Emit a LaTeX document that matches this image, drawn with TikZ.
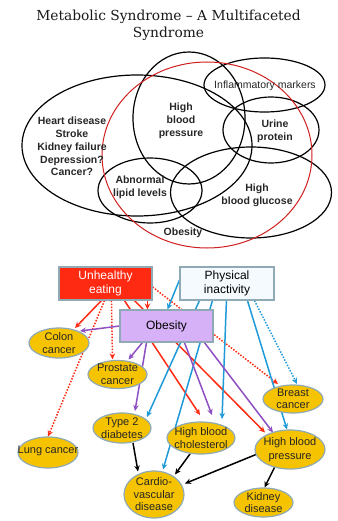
\documentclass[tikz,border=0pt]{standalone}
\usepackage{fontspec}
\setmainfont{Liberation Sans}
\newfontfamily\titlefont{DejaVu Serif}
\usetikzlibrary{shapes.geometric,arrows.meta,calc}
\pgfdeclarelayer{bg}
\pgfsetlayers{bg,main}
\definecolor{cred}{HTML}{FF2A12}
\definecolor{cblue}{HTML}{1E9AD8}
\definecolor{cpurple}{HTML}{8E4FC2}
\definecolor{cgold}{HTML}{F6C300}
\definecolor{cedge}{HTML}{8FAAB4}
\definecolor{cobes}{HTML}{D7B1F7}
\definecolor{cpi}{HTML}{F4FAFD}
\definecolor{cvenred}{HTML}{D01F1F}
\begin{document}
\begin{tikzpicture}[x=1pt,y=-1pt,
  venn/.style={draw=black,line width=1.2pt},
  vtxt/.style={font=\fontsize{10.5}{12.8}\selectfont\bfseries,align=center,inner sep=0pt,text=black!85},
  box/.style={draw=cedge,line width=1.1pt,inner sep=0pt,font=\fontsize{12}{14}\selectfont,align=center},
  ell/.style={ellipse,draw=cedge,line width=1.2pt,fill=cgold,inner sep=0pt},
  etxt/.style={font=\fontsize{11}{12.5}\selectfont,align=center,inner sep=0pt,text=black!85},
  arr/.style={line width=1.5pt,-{Stealth[length=6pt,width=5.5pt]}},
  dotarr/.style={arr,dash pattern=on 1.5pt off 1.5pt},
]
\useasboundingbox (0,0) rectangle (337,521);

% ---------- title ----------
\node[font=\titlefont\fontsize{13.8}{17}\selectfont,align=center,text=black!90] (title) at (168.5,25) {Metabolic Syndrome – A Multifaceted\\Syndrome};

% ---------- Venn ----------
\draw[venn] (137,145.5) ellipse [x radius=115pt, y radius=70.5pt];
\draw[venn] (189,118) ellipse [x radius=56pt, y radius=66pt];
\draw[venn] (264.5,85) ellipse [x radius=60.5pt, y radius=27pt];
\draw[venn] (271,130) ellipse [x radius=48pt, y radius=33pt];
\draw[venn] (150,190.5) ellipse [x radius=52pt, y radius=32.5pt];
\draw[venn] (251,192.5) ellipse [x radius=80.5pt, y radius=45.5pt];
\draw[draw=cvenred,line width=1pt] (207,155) ellipse [x radius=105pt, y radius=93pt];

\node[vtxt] (heart) at (72,146.5) {Heart disease\\Stroke\\Kidney failure\\Depression?\\Cancer?};
\node[vtxt] (hbpv) at (181,121) {High\\blood\\pressure};
\node[vtxt,font=\fontsize{10.5}{12.8}\selectfont] (infl) at (265,86) {Inflammatory markers};
\node[vtxt] (urine) at (275,131) {Urine\\protein};
\node[vtxt] (lipid) at (140,187.5) {Abnormal\\lipid levels};
\node[vtxt] (gluc) at (257,195) {High\\blood glucose};
\node[vtxt] (obv) at (183,233) {Obesity};

% ---------- lower diagram ----------
\node[box,fill=cred,text=white,minimum width=93pt,minimum height=33pt] (ue) at (105.5,283.5) {Unhealthy\\eating};
\node[box,fill=cpi,minimum width=94pt,minimum height=33pt] (pi) at (227,283.5) {Physical\\inactivity};
\node[box,fill=cobes,minimum width=93pt,minimum height=32pt] (ob) at (166.5,326) {Obesity};

\node[ell,minimum width=60pt,minimum height=30pt,label={[etxt]center:{Colon\\cancer}}] (colon) at (59,343) {};
\node[ell,minimum width=59pt,minimum height=28pt,label={[etxt]center:{Prostate\\cancer}}] (prost) at (117.5,374.5) {};
\node[ell,minimum width=58pt,minimum height=30pt,label={[etxt]center:{Type 2\\diabetes}}] (t2d) at (122,428) {};
\node[ell,minimum width=68pt,minimum height=32pt,label={[etxt]center:{High blood\\cholesterol}}] (hbc) at (201,438) {};
\node[ell,minimum width=60pt,minimum height=31pt,label={[etxt,yshift=2pt]center:{Lung cancer}}] (lung) at (48,452.5) {};
\node[ell,minimum width=60pt,minimum height=28pt,label={[etxt]center:{Breast\\cancer}}] (breast) at (293,399) {};
\node[ell,minimum width=70pt,minimum height=39pt,label={[etxt,font=\fontsize{11}{13.5}\selectfont]center:{High blood\\pressure}}] (hbp) at (290,449.5) {};
\node[ell,minimum width=60pt,minimum height=47pt,label={[etxt]center:{Cardio-\\vascular\\disease}}] (cvd) at (154,494.5) {};
\node[ell,minimum width=59pt,minimum height=29pt,label={[etxt]center:{Kidney\\disease}}] (kid) at (263.5,502.5) {};

\begin{pgfonlayer}{bg}
% unhealthy eating
\draw[arr,cred] ([xshift=43pt]ue.south west) -- ([shift={(16,-15)}]colon.center);
\draw[dotarr,cred] ([xshift=46pt]ue.south west) -- ([shift={(0,-16)}]lung.center);
\draw[dotarr,cred] ([xshift=53pt]ue.south west) -- ([shift={(-5,-15)}]prost.center);
\draw[arr,cred] ([xshift=66pt]ue.south west) -- ([shift={(-1,-23)}]hbc.center);
\draw[arr,cred] ([xshift=76pt]ue.south west) -- ([shift={(-25,-17)}]hbp.center);
\draw[arr,cred] ([xshift=89pt]ue.south west) -- ([xshift=28pt]ob.north west);
\draw[dotarr,cred] ([yshift=-3.5pt]ue.east) -- ([shift={(-15,-15)}]breast.center);
% physical inactivity
\draw[arr,cblue] ([yshift=3.5pt]pi.west) -- ([xshift=48pt]ob.north west);
\draw[arr,cblue] ([xshift=20pt]pi.south west) -- ([shift={(25,-11)}]t2d.center);
\draw[arr,cblue] ([xshift=33pt]pi.south west) -- ([shift={(9,-25)}]cvd.center);
\draw[arr,cblue] ([xshift=47pt]pi.south west) -- ([shift={(21,-19)}]hbc.center);
\draw[arr,cblue] ([xshift=68pt]pi.south west) -- ([shift={(-3,-20)}]hbp.center);
\draw[dotarr,cblue] ([xshift=75pt]pi.south west) -- ([shift={(4,-15)}]breast.center);
% obesity
\draw[arr,cpurple] (ob.west) -- ([shift={(21,-12)}]colon.center);
\draw[arr,cpurple] ([xshift=23pt]ob.south west) -- ([shift={(11,-15)}]prost.center);
\draw[arr,cpurple] ([xshift=27pt]ob.south west) -- ([shift={(13,-17)}]t2d.center);
\draw[arr,cpurple] ([xshift=65pt]ob.south west) -- ([shift={(11,-23)}]hbc.center);
\draw[arr,cpurple] ([xshift=85pt]ob.south west) -- ([shift={(-17,-17)}]hbp.center);
% consequences
\draw[arr,black] ([shift={(11,15)}]t2d.center) -- ([shift={(-16,-23)}]cvd.center);
\draw[arr,black] ([shift={(-11,16)}]hbc.center) -- ([shift={(21,-20)}]cvd.center);
\draw[arr,black] ([shift={(-34,5)}]hbp.center) -- ([shift={(31,-11)}]cvd.center);
\draw[arr,black] ([shift={(-15,17)}]hbp.center) -- ([shift={(1,-15)}]kid.center);
\end{pgfonlayer}
\end{tikzpicture}
\end{document}
